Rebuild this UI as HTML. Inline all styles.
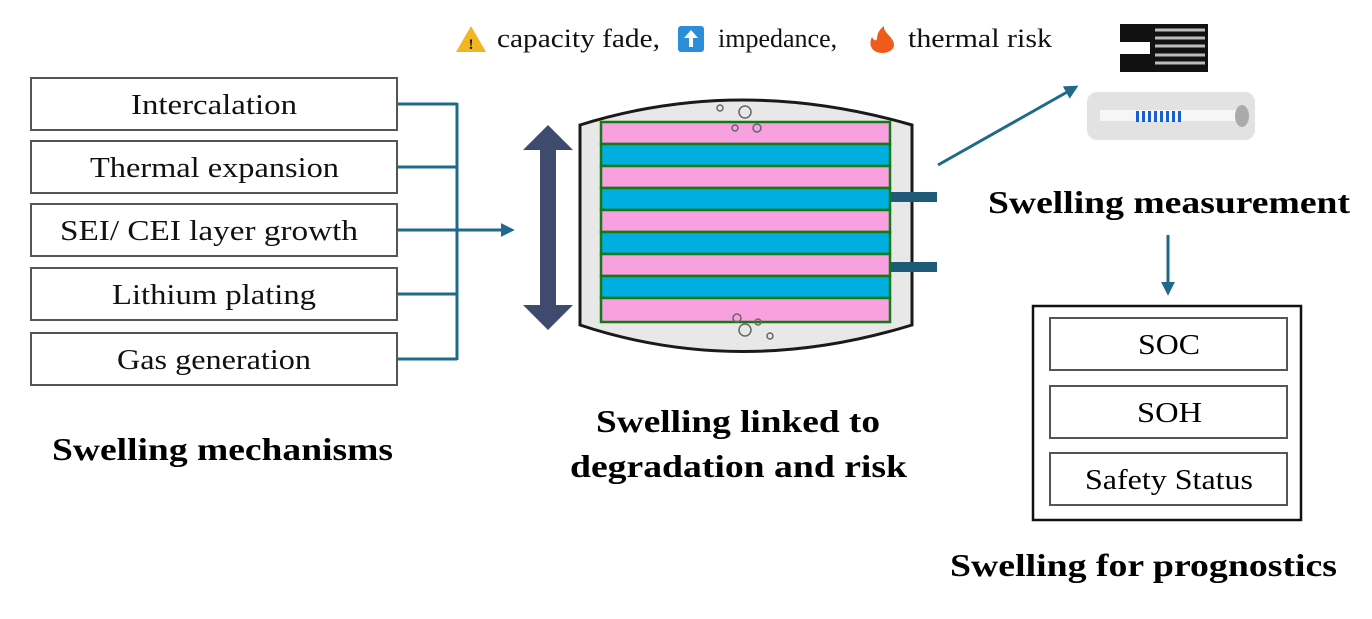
<!DOCTYPE html>
<html><head><style>
body{margin:0;background:#fff}
svg text{font-family:"Liberation Serif",serif}
</style></head><body>
<svg width="1372" height="614" viewBox="0 0 1372 614" xmlns="http://www.w3.org/2000/svg">
<defs>
<marker id="ah2" viewBox="0 0 10 10" markerWidth="14" markerHeight="14" refX="8" refY="5" orient="auto" markerUnits="userSpaceOnUse"><path d="M0,0 L10,5 L0,10 Z" fill="#1f6a8a"/></marker>
</defs>
<g fill="#fff" stroke="#555" stroke-width="2">
<rect x="31" y="78" width="366" height="52"/>
<rect x="31" y="141" width="366" height="52"/>
<rect x="31" y="204" width="366" height="52"/>
<rect x="31" y="268" width="366" height="52"/>
<rect x="31" y="333" width="366" height="52"/>
</g>
<g font-size="28" fill="#111">
<text x="131" y="114" textLength="166" lengthAdjust="spacingAndGlyphs">Intercalation</text>
<text x="90" y="177" textLength="249" lengthAdjust="spacingAndGlyphs">Thermal expansion</text>
<text x="60" y="240" textLength="298" lengthAdjust="spacingAndGlyphs">SEI/ CEI layer growth</text>
<text x="112" y="304" textLength="204" lengthAdjust="spacingAndGlyphs">Lithium plating</text>
<text x="117" y="369" textLength="194" lengthAdjust="spacingAndGlyphs">Gas generation</text>
</g>
<g stroke="#1f6a8a" stroke-width="3" fill="none">
<path d="M397 104H457M397 167H457M397 230H457M397 294H457M397 359H457M457 103V360"/>
<path d="M457 230H512" marker-end="url(#ah2)"/>
<path d="M938 165L1076 87" marker-end="url(#ah2)"/>
<path d="M1168 235V293" marker-end="url(#ah2)"/>
</g>
<g font-size="32" font-weight="bold">
<text x="52" y="460" textLength="341" lengthAdjust="spacingAndGlyphs">Swelling mechanisms</text>
<text x="596" y="432" textLength="284" lengthAdjust="spacingAndGlyphs">Swelling linked to</text>
<text x="570" y="477" textLength="337" lengthAdjust="spacingAndGlyphs">degradation and risk</text>
<text x="988" y="213" textLength="362" lengthAdjust="spacingAndGlyphs">Swelling measurement</text>
<text x="950" y="576" textLength="387" lengthAdjust="spacingAndGlyphs">Swelling for prognostics</text>
</g>
<path d="M548 125L573 150H556V305H573L548 330L523 305H540V150H523Z" fill="#3e4a6e"/>
<path d="M580 125Q740 75 912 125V325Q740 378 580 325Z" fill="#e8e8e8" stroke="#1a1a1a" stroke-width="3"/>
<g stroke="#137a13" stroke-width="2.5">
<rect x="601" y="122" width="289" height="22" fill="#f9a0e0"/>
<rect x="601" y="144" width="289" height="22" fill="#00aee0"/>
<rect x="601" y="166" width="289" height="22" fill="#f9a0e0"/>
<rect x="601" y="188" width="289" height="22" fill="#00aee0"/>
<rect x="601" y="210" width="289" height="22" fill="#f9a0e0"/>
<rect x="601" y="232" width="289" height="22" fill="#00aee0"/>
<rect x="601" y="254" width="289" height="22" fill="#f9a0e0"/>
<rect x="601" y="276" width="289" height="22" fill="#00aee0"/>
<rect x="601" y="298" width="289" height="24" fill="#f9a0e0"/>
</g>
<g fill="none" stroke="#666" stroke-width="1.5">
<circle cx="745" cy="112" r="6"/><circle cx="757" cy="128" r="4"/><circle cx="735" cy="128" r="3"/><circle cx="720" cy="108" r="3"/>
<circle cx="745" cy="330" r="6"/><circle cx="737" cy="318" r="4"/><circle cx="758" cy="322" r="3"/><circle cx="770" cy="336" r="3"/>
</g>
<rect x="891" y="192" width="46" height="10" fill="#1f5a78"/>
<rect x="891" y="262" width="46" height="10" fill="#1f5a78"/>
<g font-size="26" fill="#111">
<path d="M471 26L486 52H456Z" fill="#f2b622"/><text x="471" y="49" font-size="15" font-weight="bold" text-anchor="middle">!</text>
<text x="497" y="47" textLength="163" lengthAdjust="spacingAndGlyphs">capacity fade,</text>
<rect x="678" y="26" width="26" height="26" rx="3" fill="#2a8fd8"/><path d="M691 30L698 38H693V47H689V38H684Z" fill="#fff"/>
<text x="718" y="47">impedance,</text>
<path d="M882 53C872 53 868 45 872 37C874 41 876 41 877 39C877 33 880 29 884 26C883 33 894 37 894 45C894 50 888 53 882 53Z" fill="#f05a1a"/>
<text x="908" y="47" textLength="144" lengthAdjust="spacingAndGlyphs">thermal risk</text>
</g>
<g>
<path d="M1120 24H1208V72H1120V54H1150V42H1120Z" fill="#111"/>
<g stroke="#bbb" stroke-width="3"><path d="M1155 30H1205M1155 38H1205M1155 46H1205M1155 55H1205M1155 63H1205"/></g>
<rect x="1087" y="92" width="168" height="48" rx="10" fill="#e2e2e2"/>
<rect x="1100" y="110" width="140" height="11" fill="#f6f6f6"/>
<ellipse cx="1242" cy="116" rx="7" ry="11" fill="#aaa"/>
<g fill="#1a5fd0"><rect x="1136" y="111" width="3" height="11"/><rect x="1142" y="111" width="3" height="11"/><rect x="1148" y="111" width="3" height="11"/><rect x="1154" y="111" width="3" height="11"/><rect x="1160" y="111" width="3" height="11"/><rect x="1166" y="111" width="3" height="11"/><rect x="1172" y="111" width="3" height="11"/><rect x="1178" y="111" width="3" height="11"/></g>
</g>
<rect x="1033" y="306" width="268" height="214" fill="#fff" stroke="#111" stroke-width="2.5"/>
<g fill="#fff" stroke="#555" stroke-width="2">
<rect x="1050" y="318" width="237" height="52"/>
<rect x="1050" y="386" width="237" height="52"/>
<rect x="1050" y="453" width="237" height="52"/>
</g>
<g font-size="28">
<text x="1138" y="354" textLength="62" lengthAdjust="spacingAndGlyphs">SOC</text>
<text x="1137" y="422" textLength="65" lengthAdjust="spacingAndGlyphs">SOH</text>
<text x="1085" y="489" textLength="168" lengthAdjust="spacingAndGlyphs">Safety Status</text>
</g>
</svg>
</body></html>
